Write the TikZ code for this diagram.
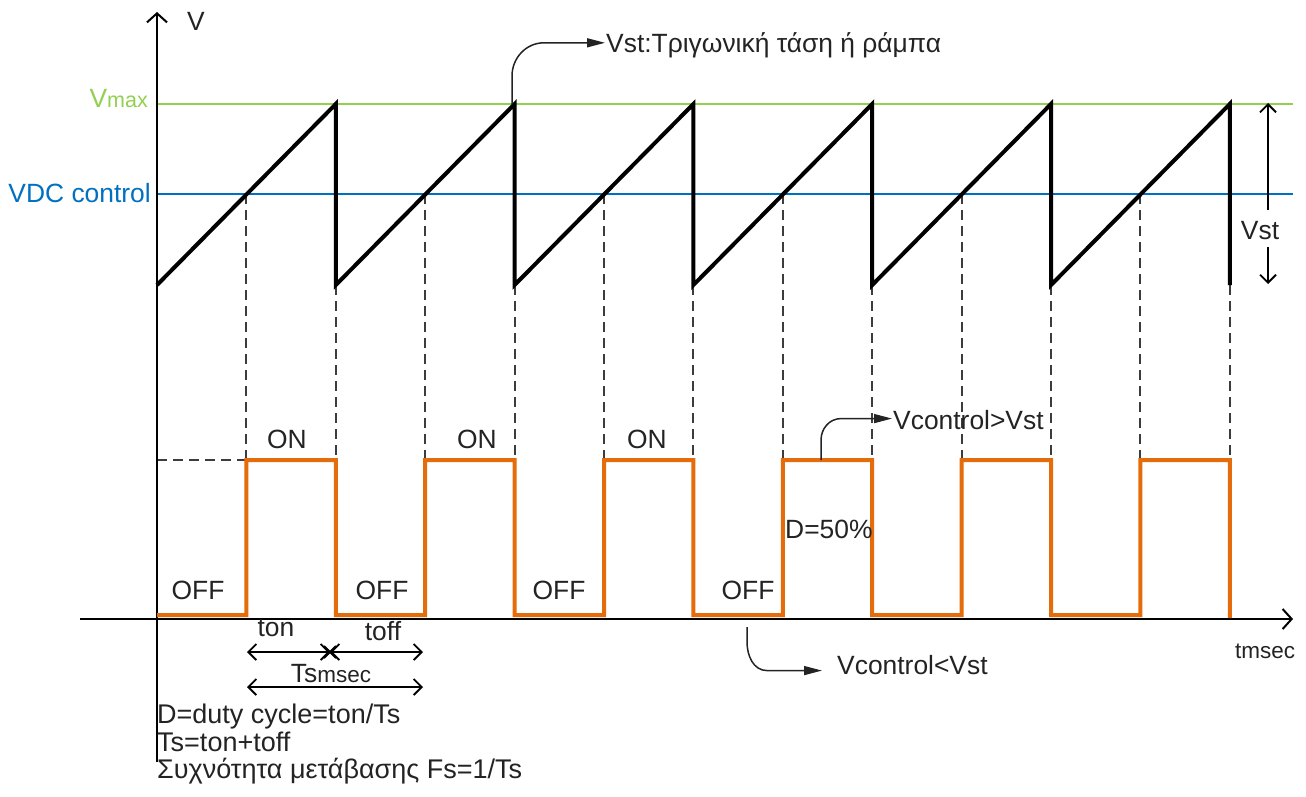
\documentclass[tikz,border=0pt]{standalone}
\usepackage{fontspec}
\setmainfont{Liberation Sans}
\usetikzlibrary{arrows.meta}
\definecolor{pwmorange}{RGB}{228,108,10}
\definecolor{maxgreen}{RGB}{146,208,80}
\definecolor{ctrlblue}{RGB}{0,112,192}
\definecolor{ink}{RGB}{35,35,35}
\definecolor{guidegray}{RGB}{60,60,60}
\tikzset{
  lbl/.style={font=\fontsize{26.4}{31}\selectfont, inner sep=0pt, text=ink},
  deflbl/.style={font=\fontsize{27}{32}\selectfont, inner sep=0pt, text=ink},
  smalllbl/.style={font=\fontsize{22.5}{27}\selectfont, inner sep=0pt, text=ink},
  axis/.style={line width=2.4pt, draw=black, -{Straight Barb[length=9pt,width=20pt,line width=2pt]}},
  guide/.style={line width=1.9pt, draw=guidegray, dash pattern=on 10pt off 6pt},
  ramp/.style={line width=4pt, draw=black},
  pulse/.style={line width=4pt, draw=pwmorange},
  level/.style={line width=2pt},
  callout/.style={line width=1.5pt, draw=ink, -{Triangle[length=18pt,width=9pt]}},
  barb/.style={Straight Barb[length=8pt,width=16pt,line width=1.8pt]},
  span/.style={line width=1.8pt, draw=black, {Straight Barb[length=8pt,width=16pt,line width=1.8pt]}-{Straight Barb[length=8pt,width=16pt,line width=1.8pt]}},
}
\begin{document}
\begin{tikzpicture}[x=1pt,y=-1pt]
\useasboundingbox (0,0) rectangle (1306,796);

% reference levels
\draw[level, draw=maxgreen] (157,104) -- (1293,104);
\draw[level, draw=ctrlblue] (157,194) -- (1293,194);

% comparator guide lines
\foreach \k in {0,...,5} {
  \pgfmathsetmacro\xr{246.4+178.8*\k}
  \pgfmathsetmacro\xf{335.8+178.8*\k}
  \draw[guide] (\xr,194) -- (\xr,460);
  \draw[guide] (\xf,285) -- (\xf,460);
}
\draw[guide] (157,460) -- (246.4,460);

% axes
\coordinate (yfoot) at (157,762);
\coordinate (ytip) at (157,12);
\coordinate (xfoot) at (80,619);
\coordinate (xtip) at (1293,619);
\draw[axis] (yfoot) -- (ytip);
\draw[axis] (xfoot) -- (xtip);

% sawtooth carrier
\draw[ramp] (157,285) \foreach \k in {1,...,6} { -- ({157+178.8*\k},104) -- ({157+178.8*\k},285) };

% PWM output
\draw[pulse] (157,615) \foreach \k in {0,...,5} {
  -- ({246.4+178.8*\k},615) -- ({246.4+178.8*\k},460)
  -- ({335.8+178.8*\k},460) -- ({335.8+178.8*\k},615) } -- (1229.8,618);

% axis and level labels
\node[lbl, anchor=base west] (vlbl) at (187,30) {V};
\node[lbl, anchor=base east, text=maxgreen] (vmax) at (148,107) {V{\fontsize{21.5}{25}\selectfont max}};
\node[lbl, anchor=base east, text=ctrlblue] (vdc) at (151,202) {VDC control};
\node[smalllbl, anchor=base west] (tlbl) at (1235,658) {tmsec};

% ON / OFF states
\foreach \x/\n in {287/1, 477/2, 647/3} \node[lbl, anchor=base] (on\n) at (\x,448) {ON};
\foreach \x/\n in {198/1, 382/2, 559/3, 748/4} \node[lbl, anchor=base] (off\n) at (\x,599) {OFF};
\node[lbl, anchor=base west] (duty) at (785,538) {D=50\%};

% callouts
\coordinate (peak) at (512,104);
\node[lbl, anchor=base west] (vstnote) at (606,52) {Vst:Τριγωνική τάση ή ράμπα};
\draw[callout] (peak) -- (512,76) to[out=90,in=180] ([xshift=-62pt,yshift=2pt]vstnote.west) -- ([xshift=-1pt,yshift=2pt]vstnote.west);

\coordinate (hi) at (821,460);
\node[lbl, anchor=base west] (gtnote) at (893,429) {Vcontrol>Vst};
\draw[callout] (hi) -- (821,440) to[out=90,in=180] ([xshift=-52pt,yshift=1pt]gtnote.west) -- ([xshift=-1pt,yshift=1pt]gtnote.west);

\coordinate (lo) at (747,627);
\node[lbl, anchor=base west] (ltnote) at (837,674) {Vcontrol<Vst};
\draw[callout] (lo) -- (747,642) to[out=-90,in=180] ([xshift=-70pt,yshift=-6pt]ltnote.west) -- ([xshift=-15pt,yshift=-6pt]ltnote.west);

% ramp amplitude
\node[lbl, anchor=base] (vstamp) at (1260,239) {Vst};
\coordinate (amptop) at (1268,103);
\coordinate (ampup) at (1268,210);
\coordinate (ampdn) at (1268,247);
\coordinate (ampbot) at (1268,284);
\draw[line width=1.8pt, -{Straight Barb[length=8pt,width=16pt,line width=1.8pt]}] (ampup) -- (amptop);
\draw[line width=1.8pt, -{Straight Barb[length=8pt,width=16pt,line width=1.8pt]}] (ampdn) -- (ampbot);

% period dimensions
\coordinate (ts0) at (247,652);
\coordinate (tsm) at (330,652);
\coordinate (ts1) at (423,652);
\coordinate (tp0) at (247,687);
\coordinate (tp1) at (423,687);
\draw[span] (ts0) -- (tsm);
\draw[span] (tsm) -- (ts1);
\draw[line width=1.8pt] ([shift={(-6,-6)}]tsm) -- ([shift={(6,6)}]tsm)
                        ([shift={(-6,6)}]tsm) -- ([shift={(6,-6)}]tsm);
\draw[span] (tp0) -- (tp1);
\node[lbl, anchor=base] (ton) at (276,636) {ton};
\node[lbl, anchor=base] (toff) at (383,640) {toff};
\node[lbl, anchor=base] (tsl) at (331,682) {Ts{\fontsize{22.5}{27}\selectfont msec}};

% definitions
\node[deflbl, anchor=base west] (def1) at (157,723) {D=duty cycle=ton/Ts};
\node[deflbl, anchor=base west] (def2) at (157,751) {Ts=ton+toff};
\node[deflbl, anchor=base west] (def3) at (157,778) {Συχνότητα μετάβασης Fs=1/Ts};
\end{tikzpicture}
\end{document}
